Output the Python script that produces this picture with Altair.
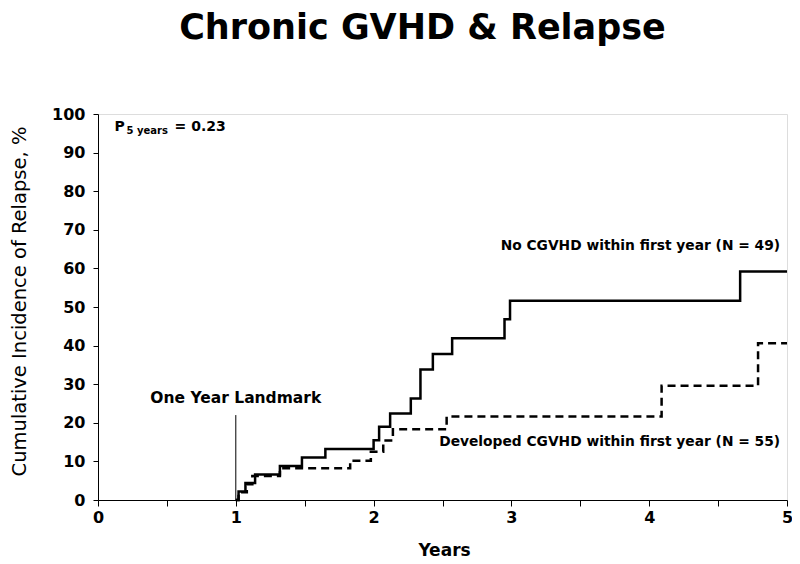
import altair as alt
import pandas as pd

# Step curves (years, cumulative incidence %)
no_cgvhd_x = [1.0, 1.02, 1.07, 1.14, 1.32, 1.48, 1.65, 2.0, 2.04, 2.12, 2.27, 2.34, 2.43, 2.57, 2.95, 2.99, 4.66, 5.0]
no_cgvhd_y = [0, 2.2, 4.4, 6.6, 8.8, 11.0, 13.2, 15.5, 19.0, 22.4, 26.3, 33.8, 37.8, 41.9, 46.8, 51.6, 59.2, 59.2]

dev_cgvhd_x = [1.0, 1.02, 1.08, 1.12, 1.32, 1.83, 1.98, 2.07, 2.14, 2.53, 4.09, 4.79, 5.0]
dev_cgvhd_y = [0, 2.0, 4.1, 6.2, 8.2, 10.2, 12.5, 15.4, 18.3, 21.6, 29.6, 40.6, 40.6]

x_ticks = [0, 0.5, 1, 1.5, 2, 2.5, 3, 3.5, 4, 4.5, 5]
y_ticks = [0, 10, 20, 30, 40, 50, 60, 70, 80, 90, 100]

landmark_x = [1, 1]
landmark_y = [0, 22]

FONT = "DejaVu Sans"

solid_df = pd.DataFrame({"x": no_cgvhd_x, "y": no_cgvhd_y})
dash_df = pd.DataFrame({"x": dev_cgvhd_x, "y": dev_cgvhd_y})
land_df = pd.DataFrame({"x": landmark_x, "y": landmark_y})

xs = alt.Scale(domain=[0, 5], nice=False, zero=False)
ys = alt.Scale(domain=[0, 100], nice=False)

x_axis = alt.Axis(
    values=x_ticks, title="Years", grid=False, domainColor="black", tickColor="black",
    tickSize=6, labelFont=FONT, labelFontWeight="bold", labelFontSize=16, labelColor="black",
    labelExpr="datum.value % 1 == 0 ? format(datum.value, 'd') : ''", labelPadding=3,
    labelOverlap=False, labelFlush=False,
    titleFont=FONT, titleFontWeight="bold", titleFontSize=17, titleColor="black",
    titleX=346, titleY=50, titleBaseline="middle",
)
y_axis = alt.Axis(
    values=y_ticks, title="Cumulative Incidence of Relapse, %", grid=False, domainColor="black",
    tickColor="black", tickSize=5, labelFont=FONT, labelFontWeight="bold", labelFontSize=16,
    labelColor="black", labelPadding=8, labelOverlap=False, labelFlush=False,
    titleFont=FONT, titleFontWeight="normal", titleFontSize=19.5, titleColor="black",
    titleX=-79, titleY=187, titleAngle=-90, titleBaseline="middle", titleAlign="center",
)

X0 = alt.X("x:Q", scale=xs, axis=x_axis)
Y0 = alt.Y("y:Q", scale=ys, axis=y_axis)

solid = alt.Chart(solid_df).mark_line(interpolate="step-after", color="black", strokeWidth=2.5).encode(x=X0, y=Y0)
dashed = alt.Chart(dash_df).mark_line(interpolate="step-after", color="black", strokeWidth=2.5,
                                      strokeDash=[8, 5]).encode(x=X0, y=Y0)
landmark = alt.Chart(land_df).mark_line(color="black", strokeWidth=1).encode(x=X0, y=Y0)

ann_df = pd.DataFrame({
    "x": [4.95, 4.95, 1.0],
    "y": [65.7, 15.0, 26.4],
    "t": ["No CGVHD within first year (N = 49)", "Developed CGVHD within first year (N = 55)", "One Year Landmark"],
})
ann_r = alt.Chart(ann_df.iloc[:2]).mark_text(font=FONT, fontWeight="bold", fontSize=13.8, align="right",
                                             baseline="middle", color="black").encode(x=X0, y=Y0, text="t:N")
ann_c = alt.Chart(ann_df.iloc[2:]).mark_text(font=FONT, fontWeight="bold", fontSize=15.5, align="center",
                                             baseline="middle", color="black").encode(x=X0, y=Y0, text="t:N")

p_df = pd.DataFrame({"x": [0.12], "y": [95.5]})
p_main = alt.Chart(p_df).mark_text(text="P", font=FONT, fontWeight="bold", fontSize=14, align="left",
                                   baseline="alphabetic", color="black").encode(x=X0, y=Y0)
p_sub = alt.Chart(p_df).mark_text(text="5 years", font=FONT, fontWeight="bold", fontSize=10, align="left",
                                  baseline="alphabetic", color="black", dx=12, dy=3).encode(x=X0, y=Y0)
p_val = alt.Chart(p_df).mark_text(text="= 0.23", font=FONT, fontWeight="bold", fontSize=14, align="left",
                                  baseline="alphabetic", color="black", dx=60).encode(x=X0, y=Y0)

chart = alt.layer(solid, dashed, landmark, ann_r, ann_c, p_main, p_sub, p_val).properties(
    width=689, height=386,
    autosize=alt.AutoSizeParams(type="none"),
    padding={"left": 90, "top": 106, "right": 5, "bottom": 60},
    title=alt.TitleParams("Chronic GVHD & Relapse", font=FONT, fontWeight="bold", fontSize=35,
                          color="black", anchor="middle", dx=-20, offset=60),
).configure_view(stroke="#808080", strokeWidth=1.5).configure(background="white")

chart.save("out.html", embed_options={"renderer": "svg", "actions": False})
